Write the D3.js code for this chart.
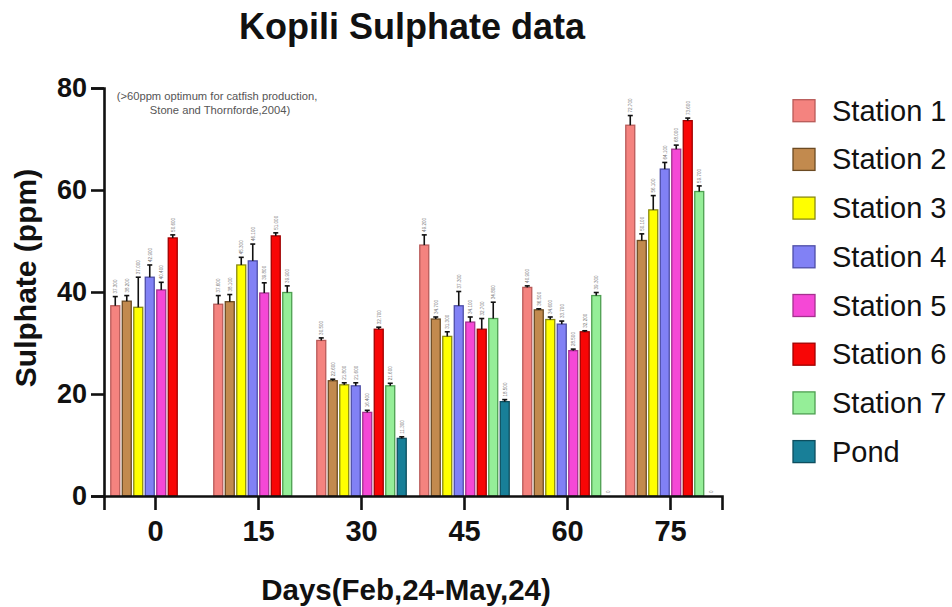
<!DOCTYPE html>
<html>
<head>
<meta charset="utf-8">
<script src="https://cdn.jsdelivr.net/npm/d3@7"></script>
<style>
  body { margin: 0; background: #fff; }
  text { font-family: "Liberation Sans", Arial, sans-serif; }
</style>
</head>
<body>
<svg id="chart" width="952" height="607"></svg>
<script>
const days = ["0", "15", "30", "45", "60", "75"];
const stations = ["Station 1", "Station 2", "Station 3", "Station 4", "Station 5", "Station 6", "Station 7", "Pond"];

// mean sulphate (ppm) per station, one value per sampling day
const station1 = [37.3, 37.6, 30.5, 49.2, 40.9, 72.7];
const station2 = [38.2, 38.1, 22.6, 34.7, 36.5, 50.1];
const station3 = [37.0, 45.3, 21.8, 31.3, 34.6, 56.1];
const station4 = [42.9, 46.1, 21.6, 37.3, 33.7, 64.1];
const station5 = [40.4, 39.8, 16.4, 34.1, 28.5, 68.0];
const station6 = [50.6, 51.0, 32.7, 32.7, 32.2, 73.6];
const station7 = [null, 39.9, 21.6, 34.8, 39.3, 59.7];
const pond     = [null, null, 11.3, 18.5, 0, 0];

// error (upper bar only)
const err1 = [1.8, 1.7, 0.5, 2.0, 0.3, 1.9];
const err2 = [1.1, 1.4, 0.3, 0.4, 0.2, 1.3];
const err3 = [5.9, 1.5, 0.4, 0.9, 0.5, 2.8];
const err4 = [2.4, 3.3, 0.6, 2.8, 0.6, 1.3];
const err5 = [1.5, 2.0, 0.4, 1.0, 0.3, 0.8];
const err6 = [0.6, 0.6, 0.4, 2.1, 0.2, 0.5];
const err7 = [null, 1.3, 0.5, 3.2, 0.6, 1.1];
const errPond = [null, null, 0.3, 0.4, 0, 0];

const yTicks = [0, 20, 40, 60, 80];

const fills   = ["#f4837f", "#c28a4e", "#ffff00", "#8181f5", "#f548d6", "#f80606", "#95ee98", "#187f98"];
const strokes = ["#b85a58", "#6b4a22", "#8a8a10", "#4e4ea8", "#a5308f", "#a00000", "#4d9f50", "#0d4e5e"];

const means = [station1, station2, station3, station4, station5, station6, station7, pond];
const errs = [err1, err2, err3, err4, err5, err6, err7, errPond];

const data = [];
days.forEach((d, i) => {
  stations.forEach((s, j) => {
    if (means[j][i] !== null) data.push({ day: d, station: s, k: j, value: means[j][i], err: errs[j][i] });
  });
});

const svg = d3.select("#chart");

const x0 = d3.scaleBand().domain(days).range([104, 722]);
const x1 = d3.scaleBand().domain(stations).range([0, x0.bandwidth()])
  .paddingInner(0.22).paddingOuter(0.59);
const y = d3.scaleLinear().domain([0, 80]).range([496, 88]);

// bars
const g = svg.append("g");
g.selectAll("rect")
  .data(data)
  .join("rect")
  .attr("x", d => x0(d.day) + x1(d.station))
  .attr("y", d => y(d.value))
  .attr("width", x1.bandwidth())
  .attr("height", d => y(0) - y(d.value))
  .attr("fill", d => fills[d.k])
  .attr("stroke", d => strokes[d.k])
  .attr("stroke-width", 1.3);

// error bars
const eb = svg.append("g").attr("stroke", "#111").attr("stroke-width", 1.6);
eb.selectAll("line.v")
  .data(data.filter(d => d.err > 0))
  .join("line")
  .attr("class", "v")
  .attr("x1", d => x0(d.day) + x1(d.station) + x1.bandwidth() / 2)
  .attr("x2", d => x0(d.day) + x1(d.station) + x1.bandwidth() / 2)
  .attr("y1", d => y(d.value))
  .attr("y2", d => y(d.value + d.err));
eb.selectAll("line.c")
  .data(data.filter(d => d.err > 0))
  .join("line")
  .attr("class", "c")
  .attr("x1", d => x0(d.day) + x1(d.station) + x1.bandwidth() / 2 - 2.5)
  .attr("x2", d => x0(d.day) + x1(d.station) + x1.bandwidth() / 2 + 2.5)
  .attr("y1", d => y(d.value + d.err))
  .attr("y2", d => y(d.value + d.err));

// small value labels
svg.append("g").selectAll("text")
  .data(data)
  .join("text")
  .attr("transform", d => {
    const cx = x0(d.day) + x1(d.station) + x1.bandwidth() / 2 + 1.8;
    const cy = y(d.value + d.err) - 3;
    return `translate(${cx},${cy}) rotate(-90)`;
  })
  .attr("font-size", 4.6)
  .attr("fill", "#777")
  .text(d => d.value === 0 ? "0" : d3.format(".3f")(d.value));

// axes
const yAxis = svg.append("g")
  .attr("transform", "translate(104,0)")
  .call(d3.axisLeft(y).tickValues(yTicks).tickSize(13).tickPadding(4));
const xAxis = svg.append("g")
  .attr("transform", "translate(0,496)")
  .call(d3.axisBottom(x0).tickSize(14).tickPadding(10));

[yAxis, xAxis].forEach(a => {
  a.select(".domain").attr("stroke", "#111").attr("stroke-width", 2.6);
  a.selectAll(".tick line").attr("stroke", "#111").attr("stroke-width", 2.6);
  a.selectAll(".tick text").attr("fill", "#111").attr("font-weight", "bold")
    .attr("font-family", "'Liberation Sans', Arial, sans-serif");
});
yAxis.selectAll(".tick text").attr("font-size", 27);
xAxis.selectAll(".tick text").attr("font-size", 29);

// title and axis labels
svg.append("text")
  .attr("x", 412).attr("y", 39)
  .attr("text-anchor", "middle")
  .attr("font-size", 36).attr("font-weight", "bold").attr("fill", "#111")
  .text("Kopili Sulphate data");

svg.append("text")
  .attr("transform", "translate(36,278) rotate(-90)")
  .attr("text-anchor", "middle")
  .attr("font-size", 30).attr("font-weight", "bold").attr("fill", "#111")
  .text("Sulphate (ppm)");

svg.append("text")
  .attr("x", 406).attr("y", 600)
  .attr("text-anchor", "middle")
  .attr("font-size", 29.5).attr("font-weight", "bold").attr("fill", "#111")
  .text("Days(Feb,24-May,24)");

// note
const note = svg.append("text")
  .attr("text-anchor", "middle")
  .attr("font-size", 11.2).attr("fill", "#555");
note.append("tspan").attr("x", 217).attr("y", 100).text("(>60ppm optimum for catfish production,");
note.append("tspan").attr("x", 220).attr("y", 114).text("Stone and Thornforde,2004)");

// legend
const legend = svg.append("g").selectAll("g")
  .data(stations)
  .join("g")
  .attr("transform", (d, i) => `translate(793,${110.7 + i * 48.7})`);
legend.append("rect")
  .attr("x", 0).attr("y", -11)
  .attr("width", 22).attr("height", 22)
  .attr("fill", (d, i) => fills[i])
  .attr("stroke", (d, i) => strokes[i])
  .attr("stroke-width", 1.3);
legend.append("text")
  .attr("x", 39).attr("y", 10)
  .attr("font-size", 29).attr("fill", "#111")
  .text(d => d);
</script>
</body>
</html>
